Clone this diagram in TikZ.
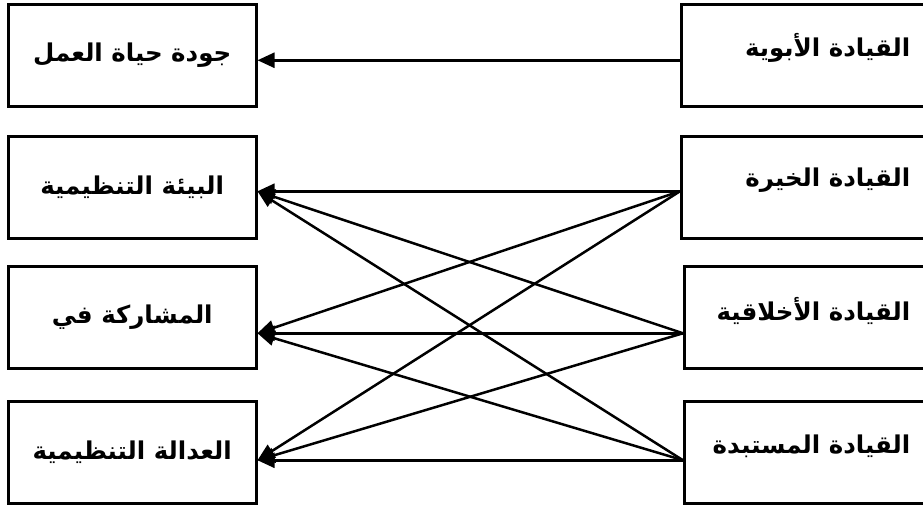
\documentclass[tikz,border=0pt]{standalone}
\usepackage{fontspec}
\usepackage{xcolor}
\usepackage{tikz}
\usetikzlibrary{arrows.meta,positioning}
\newfontfamily\arabicfont[Script=Arabic]{DejaVu Sans}
\TeXXeTstate=1
\newcommand{\artxt}[1]{{\arabicfont\bfseries\beginR #1\endR}}

\begin{document}
\begin{tikzpicture}[x=1pt,y=-1pt,
    box/.style={draw, line width=2.5pt, minimum width=248pt, minimum height=102pt,
        inner sep=0pt, anchor=north west, font=\fontsize{24.5}{28}\selectfont},
    rbox/.style={box, minimum width=270pt},
    lbl/.style={inner sep=0pt, anchor=east, font=\fontsize{24.5}{28}\selectfont},
    arr/.style={line width=2.5pt, -{Triangle[length=17pt,width=15pt]}}
]
                \useasboundingbox (0,0) rectangle (923,506);
                \clip (0,0) rectangle (923,506);

                % left column
                \node[box] (l1) at (7,3) {\artxt{جودة حياة العمل}};
                \node[box] (l2) at (7,135) {\artxt{البيئة التنظيمية}};
                \node[box] (l3) at (7,265) {\artxt{المشاركة في}};
                \node[box] (l4) at (7,400) {\artxt{العدالة التنظيمية}};

                % right column
                \node[rbox] (r1) at (680,3) {};
                \node[rbox] (r2) at (680,135) {};
                \node[rbox] (r3) at (683,265) {};
                \node[rbox] (r4) at (683,400) {};
                \node[lbl] (r1t) at ([xshift=-42pt,yshift=7pt]r1.east) {\artxt{القيادة الأبوية}};
                \node[lbl] (r2t) at ([xshift=-42pt,yshift=7pt]r2.east) {\artxt{القيادة الخيرة}};
                \node[lbl] (r3t) at ([xshift=-45pt,yshift=6pt]r3.east) {\artxt{القيادة الأخلاقية}};
                \node[lbl] (r4t) at ([xshift=-45pt,yshift=6pt]r4.east) {\artxt{القيادة المستبدة}};

                % arrow ends
                \coordinate (l1i) at ([yshift=-5pt]l1.east);
                \coordinate (l2i) at ([yshift=-4pt]l2.east);
                \coordinate (l3i) at ([yshift=-16pt]l3.east);
                \coordinate (l4i) at ([yshift=-8pt]l4.east);
                \coordinate (r1o) at ([yshift=-5pt]r1.west);
                \coordinate (r2o) at ([yshift=-4pt]r2.west);
                \coordinate (r3o) at ([yshift=-16pt]r3.west);
                \coordinate (r4o) at ([yshift=-8pt]r4.west);

                \draw[arr] (r1o) -- (l1i);

                \draw[arr] (r2o) -- (l2i);
                \draw[arr] (r2o) -- (l3i);
                \draw[arr] (r2o) -- (l4i);

                \draw[arr] (r3o) -- (l2i);
                \draw[arr] (r3o) -- (l3i);
                \draw[arr] (r3o) -- (l4i);

                \draw[arr] (r4o) -- (l2i);
                \draw[arr] (r4o) -- (l3i);
                \draw[arr] (r4o) -- (l4i);
\end{tikzpicture}
\end{document}
